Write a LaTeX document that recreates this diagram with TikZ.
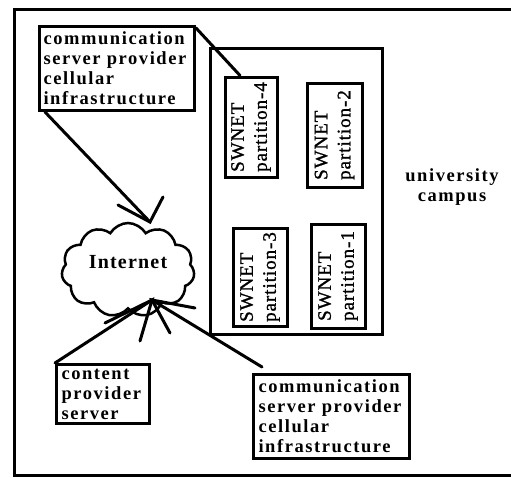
\documentclass[tikz,border=0pt]{standalone}
\usepackage{fontspec}
\setmainfont{Liberation Serif}
\newfontfamily\lblfont[LetterSpace=8.5]{Liberation Serif}
\newfontfamily\partfont[LetterSpace=5,FakeBold=1.2]{Liberation Serif}
\newfontfamily\inetfont[LetterSpace=6]{Liberation Serif}
\usetikzlibrary{shapes.symbols,calc}
\tikzset{
  txtbox/.style={draw, line width=3pt, rectangle, anchor=north west,
    inner ysep=0pt, align=left,
    font=\fontsize{18.5}{20}\selectfont\lblfont\bfseries},
  partbox/.style={draw, line width=3pt, rectangle, rotate=90, align=left,
    inner sep=0pt, font=\fontsize{19}{23}\selectfont\partfont},
  conn/.style={line width=3pt, line cap=round},
}
\begin{document}
\begin{tikzpicture}[x=1pt,y=-1pt]
\useasboundingbox (0,0) rectangle (511,477);
\clip (0,0) rectangle (511,477);
% outer frame
\draw[line width=3pt] (14,9) rectangle (530,475);
% campus
\node[draw, line width=3pt, minimum width=172pt, minimum height=286pt, inner sep=0pt] (campus) at (296,191) {};
% partitions
\node[partbox, minimum width=100pt, minimum height=52pt] (p4) at (251,127) {SWNET\\partition-4};
\node[partbox, minimum width=104pt, minimum height=55pt] (p2) at (334.5,135) {SWNET\\partition-2};
\node[partbox, minimum width=98pt, minimum height=54pt] (p3) at (260,277) {SWNET\\partition-3};
\node[partbox, minimum width=104pt, minimum height=54pt] (p1) at (338,276) {SWNET\\partition-1};
% text boxes
\node[txtbox, inner xsep=4pt, text width=147pt, minimum height=84pt] (tc) at (38,25)
  {communication\\server provider\\cellular\\infrastructure};
\node[txtbox, inner xsep=5pt, text width=83pt, minimum height=59pt] (cp) at (55,363)
  {content\\provider\\server};
\node[txtbox, inner xsep=5pt, text width=146pt, minimum height=84pt] (bc) at (252,373)
  {communication\\server provider\\cellular\\infrastructure};
% campus label
\node[align=center, font=\fontsize{18.5}{20}\selectfont\lblfont\bfseries] (uc) at (452,187) {university\\campus};
% cloud
\node[cloud, draw, line width=2.5pt, cloud puffs=11, cloud puff arc=120, aspect=1.4,
  minimum width=133pt, minimum height=94pt, inner sep=0pt, fill=white,
  label={[yshift=8pt, font=\fontsize{20}{22}\selectfont\inetfont\bfseries]center:Internet}] (inet) at (128,270) {};
% arrow tips
\coordinate (t1) at (150,222);
\coordinate (t2) at (152,300);
\coordinate (b1) at (118,205);
\coordinate (b2) at (163,197);
\coordinate (b3) at (105,323);
\coordinate (b4) at (140,341);
\coordinate (b5) at (170,333);
\coordinate (b6) at (195,308);
% connectors
\draw[conn] ($(tc.south west)+(7,0)$) -- (t1);
\draw[conn] (b1) -- (t1) -- (b2);
\draw[conn] (cp.north west) -- (t2);
\draw[conn] (b3) -- (t2) -- (b4);
\draw[conn] ($(bc.north west)+(10,-6)$) -- (t2);
\draw[conn] (b5) -- (t2) -- (b6);
\draw[conn] ($(tc.north east)+(0,3)$) -- ($(p4.north east)!0.3!(p4.south east)$);
\end{tikzpicture}
\end{document}
